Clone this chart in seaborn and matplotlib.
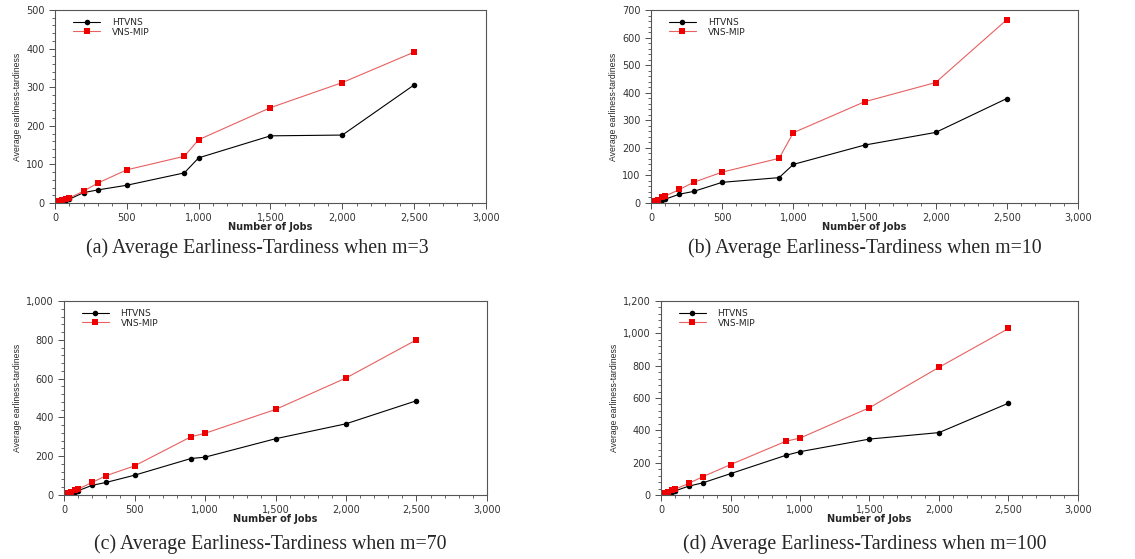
import numpy as np
import pandas as pd
import seaborn as sns
import matplotlib.pyplot as plt
from matplotlib.ticker import FuncFormatter, MultipleLocator

# Number of jobs (shared x values)
jobs = [10, 20, 50, 80, 100, 200, 300, 500, 900, 1000, 1500, 2000, 2500]

# m = 3
htvns_m3 = [2, 3, 5, 8, 10, 27, 34, 46, 78, 117, 174, 176, 306]
vnsmip_m3 = [3, 5, 7, 11, 13, 31, 52, 86, 121, 164, 247, 312, 391]
# m = 10
htvns_m10 = [3, 4, 6, 10, 14, 32, 42, 75, 92, 140, 210, 256, 379]
vnsmip_m10 = [5, 8, 12, 20, 25, 49, 75, 112, 162, 255, 367, 437, 665]
# m = 70
htvns_m70 = [4, 6, 10, 18, 22, 50, 65, 102, 188, 195, 290, 367, 486]
vnsmip_m70 = [6, 10, 15, 26, 30, 65, 100, 150, 300, 318, 441, 603, 800]
# m = 100
htvns_m100 = [4, 7, 12, 20, 25, 55, 75, 132, 246, 268, 346, 386, 568]
vnsmip_m100 = [7, 12, 18, 30, 35, 72, 113, 188, 333, 352, 540, 790, 1030]

captions = [
    "(a) Average Earliness-Tardiness when m=3",
    "(b) Average Earliness-Tardiness when m=10",
    "(c) Average Earliness-Tardiness when m=70",
    "(d) Average Earliness-Tardiness when m=100",
]
y_limits = [500, 700, 1000, 1200]
y_major = [100, 100, 200, 200]
y_minor = [20, 20, 40, 40]

panels = [
    (htvns_m3, vnsmip_m3),
    (htvns_m10, vnsmip_m10),
    (htvns_m70, vnsmip_m70),
    (htvns_m100, vnsmip_m100),
]

# axes rectangles in pixels (left, top, width, height)
W, H = 1135, 559
rects = [
    (55, 10, 431, 193),
    (651, 10, 427, 193),
    (64, 301, 423, 194),
    (661, 301, 417, 194),
]
caption_pos = [(257, 248), (865, 248), (270, 544), (865, 544)]

sns.set_style("ticks")
fig = plt.figure(figsize=(W / 100, H / 100), dpi=100)

fmt = FuncFormatter(lambda v, p: f"{v:,.0f}")
palette = {"HTVNS": "black", "VNS-MIP": "#e86060"}
markers = {"HTVNS": "o", "VNS-MIP": "s"}
SQ, CI = 4.3, 4.0

for i, (htvns, vnsmip) in enumerate(panels):
    l, t, w, h = rects[i]
    ax = fig.add_axes([l / W, 1 - (t + h) / H, w / W, h / H])
    df = pd.DataFrame({
        "Number of Jobs": jobs * 2,
        "value": htvns + vnsmip,
        "series": ["HTVNS"] * len(jobs) + ["VNS-MIP"] * len(jobs),
    })
    sns.lineplot(data=df, x="Number of Jobs", y="value", hue="series",
                 style="series", markers=markers, dashes=False,
                 palette=palette, linewidth=0.8, markersize=CI,
                 markeredgewidth=0, ax=ax)
    # saturated red squares
    for line in ax.lines:
        if line.get_marker() == "s":
            line.set_markerfacecolor("#ee0000")
            line.set_markersize(SQ)
    ax.set_xlim(0, 3000)
    ax.set_ylim(0, y_limits[i])
    ax.xaxis.set_major_locator(MultipleLocator(500))
    ax.xaxis.set_minor_locator(MultipleLocator(100))
    ax.yaxis.set_major_locator(MultipleLocator(y_major[i]))
    ax.yaxis.set_minor_locator(MultipleLocator(y_minor[i]))
    ax.xaxis.set_major_formatter(fmt)
    ax.yaxis.set_major_formatter(fmt)
    ax.tick_params(which="major", length=4, width=0.6, labelsize=7, colors="#333333")
    ax.tick_params(which="minor", length=2, width=0.5)
    for s in ax.spines.values():
        s.set_linewidth(0.8)
        s.set_color("#555555")
    ax.set_xlabel("Number of Jobs", fontsize=7, fontweight="bold", labelpad=-1)
    ax.set_ylabel("Average earliness-tardiness", fontsize=6.2, labelpad=3,
                  family=["Liberation Sans", "DejaVu Sans"])
    handles, labels = ax.get_legend_handles_labels()
    for hd in handles:
        if hd.get_marker() == "s":
            hd.set_markerfacecolor("#ee0000")
            hd.set_markersize(SQ)
        else:
            hd.set_markersize(CI)
    ax.legend(handles, labels, loc="upper left", frameon=False, fontsize=6.5,
              bbox_to_anchor=(0.025, 0.995), handlelength=3.0, handletextpad=1.3,
              labelspacing=0.05, borderpad=0.3)
    cx, cy = caption_pos[i]
    fig.text(cx / W, 1 - cy / H, captions[i], ha="center", va="center",
             fontsize=14.3, family="Liberation Serif")

fig.savefig("out.png", dpi=100)
